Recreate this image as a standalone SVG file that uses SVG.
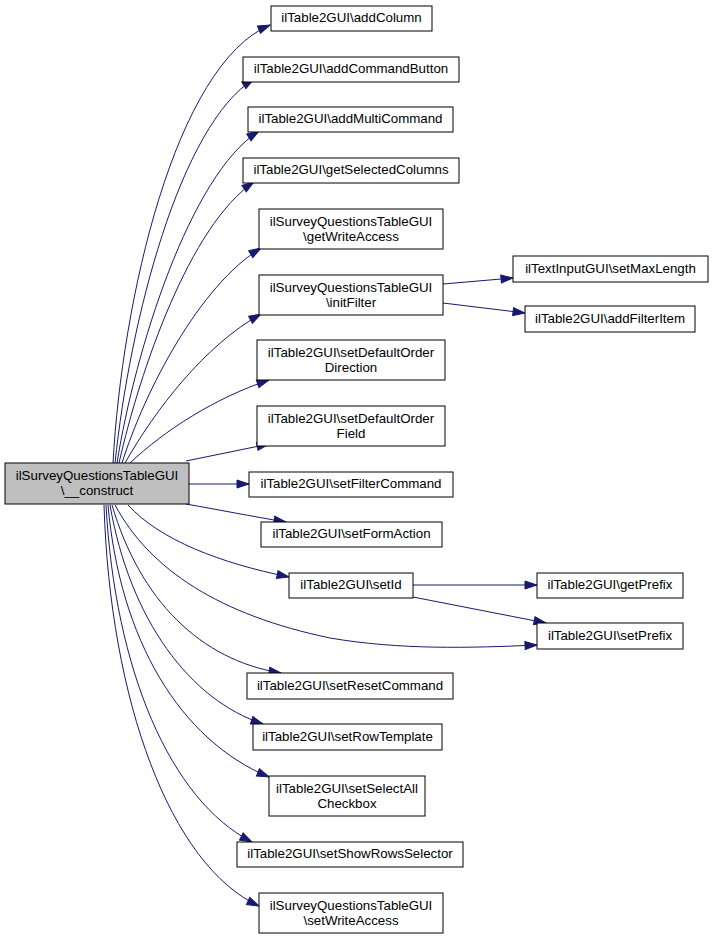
<svg xmlns="http://www.w3.org/2000/svg" width="712" height="939" viewBox="0 0 712 939">
<style>
.n rect{fill:#fff;stroke:#000;stroke-width:1}
.m rect{fill:#bfbfbf;stroke:#000;stroke-width:1}
text{font-family:"Liberation Sans",Arial,Helvetica,sans-serif;font-size:13.3px;text-anchor:middle;fill:#000}
#edges path{fill:none;stroke:#191970;stroke-width:1;marker-end:url(#a)}
</style>
<defs>
<marker id="a" markerUnits="userSpaceOnUse" markerWidth="14" markerHeight="10" refX="13" refY="5" orient="auto">
<path d="M1,1 L13,5 L1,9 z" fill="#191970" stroke="#191970"/>
</marker>
</defs>
<rect width="712" height="939" fill="#fff"/>
<g id="edges">
<path d="M113,463 C122,300 175,65 270,25"/>
<path d="M115,463 C130,320 180,125 254,79"/>
<path d="M117,463 C135,350 190,175 259,131"/>
<path d="M119,463 C140,370 190,225 254,182"/>
<path d="M122,463 C145,390 200,285 261,248"/>
<path d="M125,463 C155,410 205,345 261,314"/>
<path d="M130,463 C165,430 215,398 269,380"/>
<path d="M186,461 L269,444"/>
<path d="M189,484 L249,484"/>
<path d="M186,504 C220,510 250,516 286,522"/>
<path d="M128,505 C160,540 220,563 289,577"/>
<path d="M115,505 C150,570 220,615 330,638 C400,650 470,648 537,645"/>
<path d="M112,505 C140,600 200,660 281,673"/>
<path d="M110,505 C130,620 190,700 263,724"/>
<path d="M108,505 C120,640 180,740 269,777"/>
<path d="M106,505 C115,670 170,800 252,842"/>
<path d="M104,505 C110,700 170,865 259,906"/>
<path d="M443,284 L513,278"/>
<path d="M443,303 L525,313"/>
<path d="M413,585 L537,585"/>
<path d="M413,597 L546,623"/>
</g>
<g id="main" class="m"><rect x="5" y="463" width="184" height="41"/><text x="97" y="480">ilSurveyQuestionsTableGUI</text><text x="97" y="495">\__construct</text></g>
<g id="addColumn" class="n"><rect x="271" y="6" width="161" height="25"/><text x="351.5" y="22">ilTable2GUI\addColumn</text></g>
<g id="addCommandButton" class="n"><rect x="243" y="57" width="216" height="25"/><text x="351" y="73">ilTable2GUI\addCommandButton</text></g>
<g id="addMultiCommand" class="n"><rect x="248" y="107" width="205" height="25"/><text x="350.5" y="123">ilTable2GUI\addMultiCommand</text></g>
<g id="getSelectedColumns" class="n"><rect x="243" y="158" width="216" height="25"/><text x="351" y="174">ilTable2GUI\getSelectedColumns</text></g>
<g id="getWriteAccess" class="n"><rect x="259" y="209" width="184" height="40"/><text x="351" y="226">ilSurveyQuestionsTableGUI</text><text x="351" y="241">\getWriteAccess</text></g>
<g id="initFilter" class="n"><rect x="259" y="275" width="184" height="40"/><text x="351" y="292">ilSurveyQuestionsTableGUI</text><text x="351" y="307">\initFilter</text></g>
<g id="setDefaultOrderDirection" class="n"><rect x="257" y="340" width="188" height="40"/><text x="351" y="357">ilTable2GUI\setDefaultOrder</text><text x="351" y="372">Direction</text></g>
<g id="setDefaultOrderField" class="n"><rect x="257" y="406" width="188" height="40"/><text x="351" y="423">ilTable2GUI\setDefaultOrder</text><text x="351" y="438">Field</text></g>
<g id="setFilterCommand" class="n"><rect x="249" y="472" width="204" height="25"/><text x="351" y="488">ilTable2GUI\setFilterCommand</text></g>
<g id="setFormAction" class="n"><rect x="261" y="522" width="181" height="25"/><text x="351.5" y="538">ilTable2GUI\setFormAction</text></g>
<g id="setId" class="n"><rect x="289" y="573" width="124" height="25"/><text x="351" y="589">ilTable2GUI\setId</text></g>
<g id="setResetCommand" class="n"><rect x="247" y="673" width="206" height="26"/><text x="350" y="690">ilTable2GUI\setResetCommand</text></g>
<g id="setRowTemplate" class="n"><rect x="253" y="724" width="189" height="26"/><text x="347.5" y="741">ilTable2GUI\setRowTemplate</text></g>
<g id="setSelectAllCheckbox" class="n"><rect x="269" y="776" width="156" height="40"/><text x="347" y="793">ilTable2GUI\setSelectAll</text><text x="347" y="808">Checkbox</text></g>
<g id="setShowRowsSelector" class="n"><rect x="237" y="842" width="226" height="25"/><text x="350" y="858">ilTable2GUI\setShowRowsSelector</text></g>
<g id="setWriteAccess" class="n"><rect x="259" y="893" width="184" height="40"/><text x="351" y="910">ilSurveyQuestionsTableGUI</text><text x="351" y="925">\setWriteAccess</text></g>
<g id="setMaxLength" class="n"><rect x="513" y="256" width="195" height="26"/><text x="610.5" y="273">ilTextInputGUI\setMaxLength</text></g>
<g id="addFilterItem" class="n"><rect x="525" y="306" width="170" height="26"/><text x="610" y="323">ilTable2GUI\addFilterItem</text></g>
<g id="getPrefix" class="n"><rect x="537" y="573" width="146" height="25"/><text x="610" y="589">ilTable2GUI\getPrefix</text></g>
<g id="setPrefix" class="n"><rect x="537" y="623" width="146" height="26"/><text x="610" y="640">ilTable2GUI\setPrefix</text></g>
</svg>
